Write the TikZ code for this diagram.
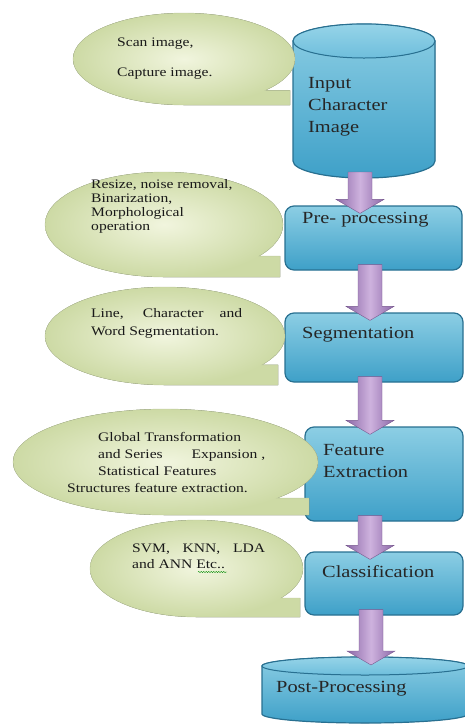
\documentclass[tikz,border=0pt]{standalone}
\usepackage{fontspec}
\setmainfont{Liberation Serif}[FakeStretch=1.2]
\usetikzlibrary{calc,decorations.pathmorphing}
\definecolor{boxtop}{RGB}{140,206,228}
\definecolor{boxbot}{RGB}{62,160,200}
\definecolor{boxline}{RGB}{40,112,145}
\definecolor{lidtop}{RGB}{150,212,232}
\definecolor{lidbot}{RGB}{110,190,220}
\definecolor{leaf}{RGB}{241,245,222}
\definecolor{leafdark}{RGB}{205,218,165}
\definecolor{leafline}{RGB}{190,202,158}
\definecolor{plum}{RGB}{140,104,168}
\definecolor{plumlight}{RGB}{206,178,222}

\tikzset{
  stage/.style={draw=boxline, line width=1.2pt, rounded corners=9pt, top color=boxtop, bottom color=boxbot},
  drum/.style={inner sep=0pt, outer sep=0pt},
  drumbody/.style={draw=boxline, line width=1.2pt, top color=boxtop, bottom color=boxbot},
  drumlid/.style={draw=boxline, line width=1pt, top color=lidtop, bottom color=lidbot},
  bubble/.style={draw=leafline, inner color=leaf, outer color=leafdark},
  flowarrow/.style={draw=plum!85!black, thin, left color=plum, right color=plum, middle color=plumlight},
  stagetext/.style={font=\fontsize{17}{22}\selectfont, align=left, inner sep=0pt, text=black!85},
  notetext/.style={font=\fontsize{13}{17}\selectfont, align=left, inner sep=0pt, text=black!90}
}

\begin{document}
\begin{tikzpicture}[x=1pt,y=1pt]
\useasboundingbox (0,0) rectangle (465,-724);

% flow chart
\node[drum, minimum width=142pt, minimum height=154pt] (input) at (364,-101) {};
\node[stage, minimum width=177pt, minimum height=64pt] (pre) at (373.5,-238) {};
\node[stage, minimum width=178pt, minimum height=69pt] (seg) at (374,-347.5) {};
\node[stage, minimum width=158pt, minimum height=94pt] (feat) at (384,-474) {};
\node[stage, minimum width=158pt, minimum height=63pt] (cls) at (384,-583.5) {};
\node[drum, minimum width=206pt, minimum height=66pt] (post) at (365,-690) {};

% cylinders
\filldraw[drumbody] ([yshift=-17pt]input.north west) -- ([yshift=17pt]input.south west)
  arc[start angle=180, end angle=360, x radius=71, y radius=17] -- ([yshift=-17pt]input.north east)
  arc[start angle=0, end angle=180, x radius=71, y radius=17] -- cycle;
\filldraw[drumlid] ([yshift=-17pt]input.north) ellipse[x radius=71, y radius=17];
\filldraw[drumbody] ([yshift=-9pt]post.north west) -- ([yshift=9pt]post.south west)
  arc[start angle=180, end angle=360, x radius=103, y radius=9] -- ([yshift=-9pt]post.north east)
  arc[start angle=0, end angle=180, x radius=103, y radius=9] -- cycle;
\filldraw[drumlid] ([yshift=-9pt]post.north) ellipse[x radius=103, y radius=9];

\node[stagetext, anchor=base west] (inputLbl) at (308,-132) {Input\\Character\\Image};
\node[stagetext, anchor=base west] (preLbl) at (302,-223) {Pre- processing};
\node[stagetext, anchor=base west] (segLbl) at (302,-338) {Segmentation};
\node[stagetext, anchor=base west] (featLbl) at (323,-477) {Feature\\Extraction};
\node[stagetext, anchor=base west] (clsLbl) at (322,-577) {Classification};
\node[stagetext, anchor=base west] (postLbl) at (276,-692) {Post-Processing};

% speech bubbles
\filldraw[bubble] (184,-105) arc[start angle=-90, end angle=-403, x radius=111, y radius=46] -| (290,-105) -- cycle;
\filldraw[bubble] (164,-277) arc[start angle=-90, end angle=-397, x radius=119, y radius=52.5] -| (280,-277) -- cycle;
\filldraw[bubble] (165,-385) arc[start angle=-90, end angle=-396, x radius=120, y radius=49] -| (278,-385) -- cycle;
\filldraw[bubble] (165.5,-515) arc[start angle=-90, end angle=-403, x radius=152.5, y radius=53] -| (309,-515) -- cycle;
\filldraw[bubble] (196.5,-617) arc[start angle=-90, end angle=-397.5, x radius=106.5, y radius=48.5] -| (300,-617) -- cycle;

\node[notetext, anchor=base west] (note1) at (117,-76) {Scan image,\\[13pt]Capture image.};
\node[notetext, anchor=base west, font=\fontsize{13}{14}\selectfont] (note2) at (91,-230)
  {Resize, noise removal,\\Binarization,\\Morphological\\operation};
\node[notetext, anchor=base west, font=\fontsize{13}{18}\selectfont] (note3) at (91,-335)
  {\makebox[151pt][s]{Line, Character and}\\Word Segmentation.};
\node[notetext, anchor=base west] (note4) at (67,-492)
  {\hspace*{31pt}Global Transformation\\\hspace*{31pt}\makebox[167pt]{and Series\hfill Expansion ,}\\\hspace*{31pt}Statistical Features\\Structures feature extraction.};
\node[notetext, anchor=base west, font=\fontsize{13}{16}\selectfont] (note5) at (132,-568)
  {\makebox[133pt][s]{SVM, KNN, LDA}\\and ANN Etc..};
\draw[green!55!black, decorate, decoration={snake, amplitude=0.6pt, segment length=2.5pt}] (198,-572) -- (227,-572);

% arrows
\foreach \a/\b/\ax in {input/pre/360, pre/seg/370, seg/feat/370, feat/cls/370, cls/post/371}
  \path[flowarrow] let \p1=(\a.south), \p2=(\b.north) in
    (\ax pt-12pt,\y1+6pt) -- (\ax pt+12pt,\y1+6pt) -- (\ax pt+12pt,\y2+6pt)
    -- (\ax pt+24pt,\y2+6pt) -- (\ax pt,\y2-8pt) -- (\ax pt-24pt,\y2+6pt)
    -- (\ax pt-12pt,\y2+6pt) -- cycle;
\end{tikzpicture}
\end{document}
